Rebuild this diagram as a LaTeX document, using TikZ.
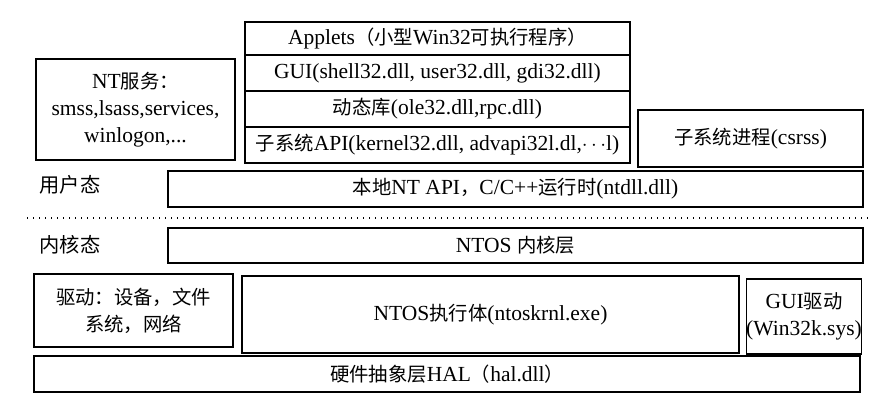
\documentclass[tikz,border=0pt]{standalone}
\usepackage{fontspec}
\setmainfont{Liberation Serif}
\newfontfamily\cjkfont{Noto Sans CJK SC}[Scale=0.9]
\newcommand\zh[1]{{\cjkfont #1}}
\begin{document}
\begin{tikzpicture}[x=1pt,y=-1pt,
  box/.style={draw=black, line width=1.3pt, inner sep=0pt, align=center,
    font=\fontsize{21.5}{27}\selectfont},
  lbl/.style={inner sep=0pt, font=\fontsize{22.5}{26}\selectfont}]
\useasboundingbox (0,0) rectangle (895,413);
% user-mode stack
\node[box, minimum width=385pt, minimum height=33pt] (applets) at (437.5,38.5)
  {Applets\zh{（小型}Win32\zh{可执行程序）}};
\node[box, minimum width=385pt, minimum height=36pt] (gui) at (437.5,73)
  {GUI(shell32.dll, user32.dll, gdi32.dll)};
\node[box, minimum width=385pt, minimum height=36pt] (dyn) at (437.5,109)
  {\zh{动态库}(ole32.dll,rpc.dll)};
\node[box, minimum width=385pt, minimum height=36pt] (subapi) at (437.5,145)
  {\zh{子系统}API(kernel32.dll, advapi32l.dl,$\cdots$l)};
\node[box, minimum width=199pt, minimum height=101pt] (ntsvc) at (135.5,109.5)
  {NT\zh{服务：}\\smss,lsass,services,\\winlogon,...};
\node[box, minimum width=225pt, minimum height=57pt] (csrss) at (750.5,138.5)
  {\zh{子系统进程}(csrss)};
\node[lbl] (user) at (70,185) {\zh{用户态}};
\node[box, minimum width=695pt, minimum height=36pt] (ntdll) at (515.5,189)
  {\zh{本地}NT API\zh{，}C/C++\zh{运行时}(ntdll.dll)};
% separator
\coordinate (sepL) at (27,218);
\coordinate (sepR) at (872,218);
\draw[line width=1.3pt, dash pattern=on 1.3pt off 4.7pt] (sepL) -- (sepR);
% kernel mode
\node[lbl] (kernel) at (70,245) {\zh{内核态}};
\node[box, minimum width=695pt, minimum height=35pt] (ntoskern) at (515.5,245.5)
  {NTOS \zh{内核层}};
\node[box, minimum width=199pt, minimum height=73pt] (drivers) at (133.5,310.5)
  {\zh{驱动：设备，文件}\\\zh{系统，网络}};
\node[box, minimum width=497pt, minimum height=77pt] (exec) at (490.5,314.5)
  {NTOS\zh{执行体}(ntoskrnl.exe)};
\node[box, minimum width=114pt, minimum height=75pt] (guidrv) at (804,316.5)
  {GUI\zh{驱动}\\(Win32k.sys)};
\node[box, minimum width=826pt, minimum height=36pt] (hal) at (447,374)
  {\zh{硬件抽象层}HAL\zh{（}hal.dll\zh{）}};
\end{tikzpicture}
\end{document}
